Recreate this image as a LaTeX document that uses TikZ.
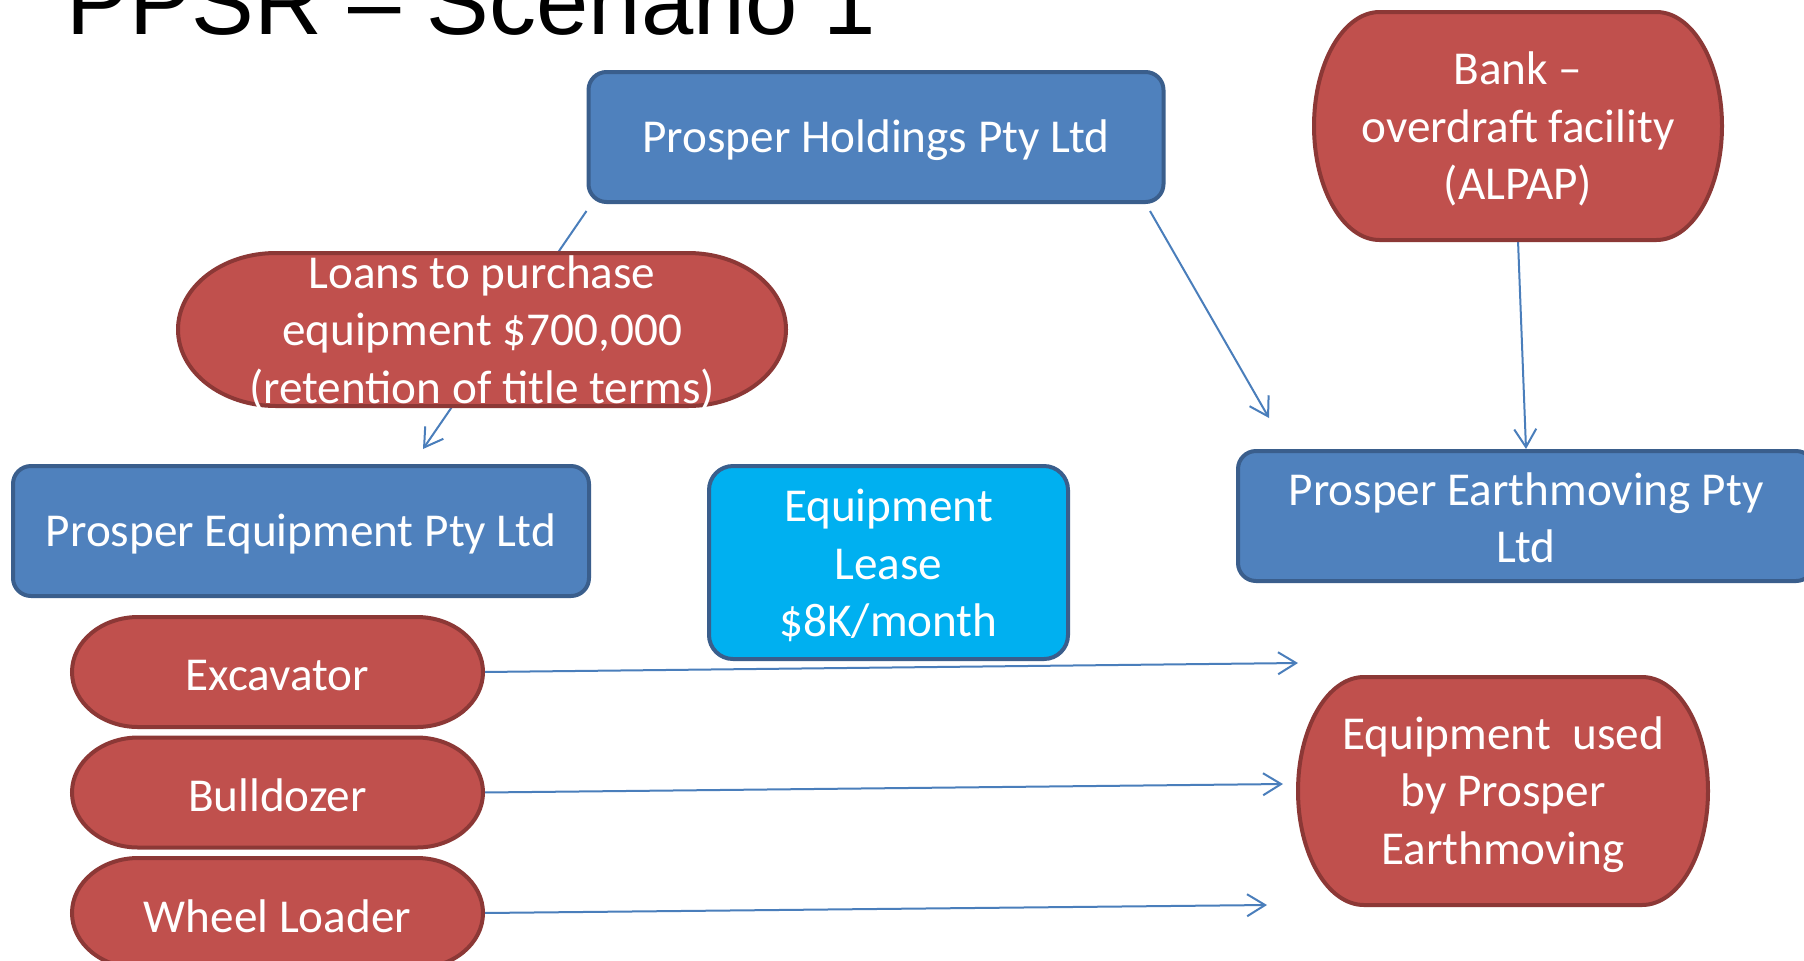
\documentclass[tikz,border=0pt]{standalone}
\usepackage{fontspec}
\setmainfont{Carlito}
\newfontfamily\titlefont{Liberation Sans}
\usetikzlibrary{arrows.meta,backgrounds}
\definecolor{boxblue}{HTML}{4F81BD}
\definecolor{boxblueline}{HTML}{3A5E8C}
\definecolor{boxred}{HTML}{C0504D}
\definecolor{boxredline}{HTML}{8C3836}
\definecolor{boxcyan}{HTML}{00B0F0}
\definecolor{arrowblue}{HTML}{4A7EBB}
\newcommand{\nodefont}{\fontsize{23.6}{28.75}\selectfont}
\newcommand{\termnode}[6]{%
 \pgfmathsetmacro{\trmL}{#2-#4/2}%
 \pgfmathsetmacro{\trmR}{#2+#4/2}%
 \pgfmathsetmacro{\trmT}{#3-#5/2}%
 \pgfmathsetmacro{\trmB}{#3+#5/2}%
 \pgfmathsetmacro{\trmX}{0.161*#4}%
 \pgfmathsetmacro{\trmY}{#5/2}%
 \pgfmathsetmacro{\trmKX}{0.5523*\trmX}%
 \pgfmathsetmacro{\trmKY}{0.5523*\trmY}%
 \draw[termshape] ({\trmL+\trmX},\trmT) -- ({\trmR-\trmX},\trmT)
   .. controls ({\trmR-\trmX+\trmKX},\trmT) and (\trmR,{#3-\trmKY}) .. (\trmR,#3)
   .. controls (\trmR,{#3+\trmKY}) and ({\trmR-\trmX+\trmKX},\trmB) .. ({\trmR-\trmX},\trmB)
   -- ({\trmL+\trmX},\trmB)
   .. controls ({\trmL+\trmX-\trmKX},\trmB) and (\trmL,{#3+\trmKY}) .. (\trmL,#3)
   .. controls (\trmL,{#3-\trmKY}) and ({\trmL+\trmX-\trmKX},\trmT) .. ({\trmL+\trmX},\trmT) -- cycle;
 \node[termtext, minimum width={#4*0.5pt}, minimum height={#5*0.5pt}] (#1) at (#2,#3) {};%
 \node[boxtext] (#1-text) at ([yshift=-1.6pt]#1.center) {#6};%
}
\begin{document}
\begin{tikzpicture}[x=0.5pt,y=-0.5pt,
  bluebox/.style={rectangle, rounded corners=9pt, fill=boxblue, draw=boxblueline, line width=2pt, inner sep=0pt},
  cyanbox/.style={bluebox, fill=boxcyan, rounded corners=12pt},
  boxtext/.style={rectangle, inner sep=0pt, text=white, align=center, font=\nodefont},
  termshape/.style={fill=boxred, draw=boxredline, line width=2pt},
  termtext/.style={rectangle, inner sep=0pt},
  conn/.style={draw=arrowblue, line width=1pt, -{Straight Barb[length=9pt,width=11pt]}}]
\useasboundingbox (0,0) rectangle (1804,960);
\clip (0,0) rectangle (1804,960);
\begin{pgfonlayer}{background}
\fill[white] (0,0) rectangle (1804,960);
\end{pgfonlayer}

\node[anchor=base west, inner sep=0pt, font=\titlefont\fontsize{47}{56}\selectfont] (title) at (66,34) {PPSR – Scenario 1};

\node[bluebox, minimum width=287.5pt, minimum height=65pt] (hold) at (876,137) {};
\node[boxtext] (hold-text) at ([yshift=-1.6pt]hold.center) {Prosper Holdings Pty Ltd};
\node[bluebox, minimum width=288pt, minimum height=65pt] (eqp) at (301,531) {};
\node[boxtext] (eqp-text) at ([yshift=-1.6pt]eqp.center) {Prosper Equipment Pty Ltd};
\node[bluebox, minimum width=288pt, minimum height=65pt] (earth) at (1526,516) {};
\node[boxtext] (earth-text) at ([yshift=-0.8pt]earth.center) {Prosper Earthmoving Pty\\Ltd};
\node[cyanbox, minimum width=179.5pt, minimum height=96.5pt] (lease) at (888.5,562.5) {};
\node[boxtext] (lease-text) at ([yshift=-1.6pt]lease.center) {Equipment\\Lease\\\$8K/month};

\termnode{bank}{1518}{126}{408}{228}{Bank –\\overdraft facility\\(ALPAP)}
\termnode{loans}{482}{329.5}{608}{153}{Loans to purchase\\equipment \$700,000\\(retention of title terms)}
\termnode{exc}{277.5}{672}{411}{110}{Excavator}
\termnode{bull}{277.5}{792.5}{411}{110}{Bulldozer}
\termnode{wheel}{277.5}{913}{411}{110}{Wheel Loader}
\termnode{used}{1503}{791}{410}{228}{Equipment\ \ used\\by Prosper\\Earthmoving}

\coordinate (tipA) at (423,449);
\coordinate (tipB) at (1269,418);
\coordinate (tipE) at (1298,663);
\coordinate (tipF) at (1283,784);
\coordinate (tipG) at (1267,905);

\begin{pgfonlayer}{background}
\draw[conn] ([yshift=-3.5pt]hold.south west) -- (tipA);
\draw[conn] ([xshift=-7.75pt,yshift=-3.5pt]hold.south east) -- (tipB);
\draw[conn] (bank.south) -- (earth.north);
\draw[conn] (exc.east) -- (tipE);
\draw[conn] (bull.east) -- (tipF);
\draw[conn] (wheel.east) -- (tipG);
\end{pgfonlayer}
\end{tikzpicture}
\end{document}
